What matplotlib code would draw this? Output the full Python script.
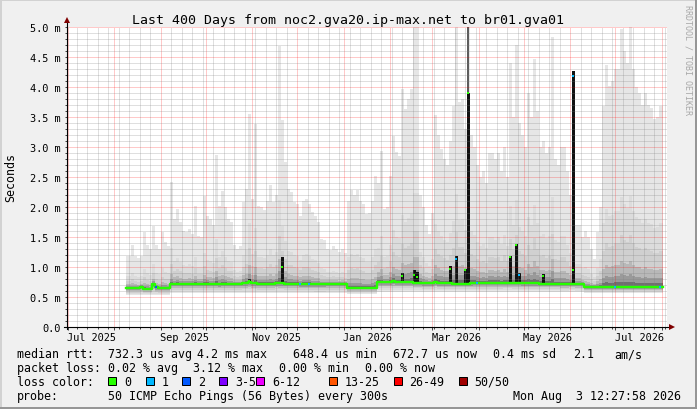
import datetime as dt
import numpy as np
import matplotlib
matplotlib.use("Agg")
import matplotlib.pyplot as plt
import matplotlib.dates as mdates
import matplotlib.transforms as mtransforms
from matplotlib.patches import Rectangle

W, H = 697, 410
MONO = "DejaVu Sans Mono"

# ---- data, all values in milliseconds -------------------------------------
# one bin every 2 days starting here
first_bin = dt.datetime(2025, 8, 9)

# top of the light smoke (max ping of the bin)
smoke_max = [
    1.19, 1.19, 1.36, 1.19, 1.15, 1.19, 1.58, 1.36, 1.30, 1.69,
    1.36, 1.30, 1.58, 1.41, 1.35, 2.41, 1.80, 1.97, 1.75, 1.60,
    1.58, 1.64, 1.55, 2.02, 1.52, 1.50, 2.19, 1.85, 1.80, 1.70,
    2.86, 2.02, 2.27, 2.00, 1.80, 1.75, 1.36, 1.30, 1.35, 2.08,
    2.30, 3.55, 2.13, 3.38, 2.02, 2.00, 1.95, 2.10, 2.36, 2.08,
    2.20, 4.69, 3.45, 2.75, 2.30, 2.25, 2.08, 2.05, 1.85, 2.10,
    2.13, 2.05, 1.91, 1.85, 1.75, 1.47, 1.45, 1.30, 1.28, 1.35,
    1.30, 1.25, 1.30, 1.24, 2.10, 2.28, 2.20, 2.28, 2.10, 2.05,
    1.88, 1.90, 2.10, 2.52, 2.40, 2.94, 1.97, 2.00, 2.52, 3.19,
    2.92, 2.85, 3.97, 3.63, 3.80, 3.97, 5.00, 5.00, 2.20, 2.00,
    1.70, 1.55, 1.90, 3.53, 3.20, 2.97, 2.80, 2.70, 3.10, 3.69,
    5.00, 3.75, 3.80, 3.30, 5.00, 3.20, 3.00, 2.70, 2.50, 2.60,
    2.40, 2.90, 2.90, 2.80, 2.90, 2.60, 3.00, 2.50, 4.40, 3.50,
    4.70, 3.40, 3.20, 3.00, 3.90, 3.50, 4.47, 3.60, 3.00, 3.10,
    2.90, 3.00, 4.83, 2.80, 2.70, 3.00, 3.00, 2.60, 2.20, 4.27,
    1.70, 1.70, 1.50, 1.60, 1.50, 1.30, 1.13, 1.58, 2.00, 3.69,
    4.36, 4.02, 4.10, 4.30, 4.30, 4.97, 4.60, 4.40, 5.00, 4.30,
    4.00, 3.90, 3.70, 3.90, 3.70, 3.65, 3.47, 3.50, 3.69, 3.69,
]

# median rtt of the bin
median_rtt = [
    0.655, 0.655, 0.655, 0.655, 0.655, 0.67, 0.64, 0.64, 0.64, 0.71,
    0.66, 0.655, 0.655, 0.655, 0.655, 0.72, 0.72, 0.72, 0.72, 0.72,
    0.72, 0.72, 0.72, 0.72, 0.72, 0.72, 0.72, 0.72, 0.72, 0.72,
    0.72, 0.715, 0.72, 0.72, 0.72, 0.72, 0.72, 0.72, 0.72, 0.73,
    0.73, 0.75, 0.73, 0.73, 0.72, 0.72, 0.72, 0.72, 0.72, 0.72,
    0.735, 0.73, 0.73, 0.725, 0.72, 0.72, 0.72, 0.72, 0.715, 0.715,
    0.715, 0.715, 0.715, 0.71, 0.71, 0.71, 0.71, 0.72, 0.72, 0.72,
    0.72, 0.72, 0.72, 0.72, 0.655, 0.655, 0.655, 0.655, 0.655, 0.655,
    0.655, 0.655, 0.655, 0.655, 0.745, 0.745, 0.745, 0.745, 0.745, 0.76,
    0.745, 0.745, 0.745, 0.745, 0.745, 0.75, 0.74, 0.74, 0.74, 0.73,
    0.73, 0.73, 0.73, 0.75, 0.73, 0.73, 0.73, 0.73, 0.73, 0.72,
    0.72, 0.72, 0.72, 0.72, 0.72, 0.73, 0.735, 0.735, 0.735, 0.735,
    0.735, 0.735, 0.735, 0.735, 0.735, 0.735, 0.74, 0.74, 0.74, 0.735,
    0.735, 0.735, 0.73, 0.73, 0.73, 0.73, 0.73, 0.73, 0.72, 0.72,
    0.72, 0.72, 0.72, 0.715, 0.715, 0.71, 0.71, 0.71, 0.715, 0.72,
    0.71, 0.71, 0.71, 0.67, 0.67, 0.67, 0.67, 0.67, 0.67, 0.67,
    0.67, 0.67, 0.67, 0.67, 0.67, 0.67, 0.67, 0.67, 0.67, 0.67,
    0.67, 0.67, 0.67, 0.67, 0.67, 0.67, 0.67, 0.67, 0.67, 0.67,
]

# bottom of the smoke (min ping of the bin)
smoke_lo = [
    0.53, 0.53, 0.53, 0.53, 0.53, 0.53, 0.53, 0.53, 0.53, 0.53,
    0.53, 0.53, 0.53, 0.53, 0.53, 0.57, 0.57, 0.57, 0.57, 0.57,
    0.57, 0.57, 0.57, 0.57, 0.57, 0.57, 0.57, 0.57, 0.57, 0.57,
    0.57, 0.57, 0.57, 0.57, 0.57, 0.57, 0.57, 0.57, 0.57, 0.57,
    0.57, 0.57, 0.57, 0.57, 0.57, 0.57, 0.57, 0.57, 0.57, 0.57,
    0.57, 0.57, 0.57, 0.57, 0.57, 0.57, 0.57, 0.57, 0.57, 0.57,
    0.57, 0.57, 0.57, 0.57, 0.57, 0.57, 0.57, 0.57, 0.57, 0.57,
    0.57, 0.57, 0.57, 0.57, 0.55, 0.55, 0.55, 0.55, 0.55, 0.55,
    0.55, 0.55, 0.55, 0.55, 0.59, 0.59, 0.59, 0.59, 0.59, 0.59,
    0.59, 0.59, 0.59, 0.59, 0.59, 0.59, 0.59, 0.59, 0.59, 0.59,
    0.59, 0.59, 0.59, 0.59, 0.59, 0.59, 0.59, 0.59, 0.59, 0.59,
    0.59, 0.59, 0.59, 0.59, 0.59, 0.59, 0.59, 0.59, 0.59, 0.59,
    0.59, 0.59, 0.59, 0.59, 0.59, 0.59, 0.59, 0.59, 0.59, 0.59,
    0.59, 0.59, 0.59, 0.59, 0.59, 0.59, 0.59, 0.59, 0.59, 0.59,
    0.59, 0.59, 0.59, 0.59, 0.59, 0.59, 0.59, 0.59, 0.59, 0.59,
    0.59, 0.59, 0.59, 0.56, 0.56, 0.56, 0.56, 0.56, 0.56, 0.56,
    0.56, 0.56, 0.56, 0.56, 0.56, 0.56, 0.56, 0.56, 0.56, 0.56,
    0.56, 0.56, 0.56, 0.56, 0.56, 0.56, 0.56, 0.56, 0.56, 0.56,
]

# dark spikes (dense smoke) with the median dot on them
spike_dates = ["2025-10-30", "2025-11-21", "2026-02-09", "2026-02-17", "2026-02-19",
               "2026-03-13", "2026-03-17", "2026-03-23", "2026-03-25", "2026-04-22",
               "2026-04-26", "2026-04-28", "2026-05-14", "2026-06-03"]
spike_tops = [0.80, 1.16, 0.90, 0.95, 0.92, 1.02, 1.19, 0.97, 3.90, 1.19,
              1.38, 0.90, 0.88, 4.27]
spike_dots = [0.76, 1.00, 0.85, 0.87, 0.83, 0.97, 1.14, 0.95, 3.90, 1.17,
              1.36, 0.87, 0.85, 0.95]
spike_dot_loss = [0, 0, 0, 0, 0, 0, 1, 0, 0, 0, 0, 1, 0, 0]
cap_dates = ["2026-03-25"]
cap_tops = [5.0]

# median points drawn with a loss colour
loss_dates = ["2025-08-29", "2025-12-03", "2025-12-09", "2026-03-31",
              "2026-06-03", "2026-07-01", "2026-07-31"]
loss_values = [0.66, 0.715, 0.715, 0.735, 4.19, 0.67, 0.67]
loss_index = [2, 1, 1, 1, 1, 1, 1]

loss_labels = ["0", "1", "2", "3-5", "6-12", "13-25", "26-49", "50/50"]
loss_palette = ["#26ff00", "#00b8ff", "#0059ff", "#7e00ff",
                "#ee00ff", "#ff5500", "#ff0000", "#a00000"]

month_starts = ["2025-07-01", "2025-09-01", "2025-11-01", "2026-01-01",
                "2026-03-01", "2026-05-01", "2026-07-01"]
month_labels = ["Jul 2025", "Sep 2025", "Nov 2025", "Jan 2026",
                "Mar 2026", "May 2026", "Jul 2026"]
y_major = [0.0, 0.5, 1.0, 1.5, 2.0, 2.5, 3.0, 3.5, 4.0, 4.5, 5.0]

title = "Last 400 Days from noc2.gva20.ip-max.net to br01.gva01"

# ---- figure ----------------------------------------------------------------
fig = plt.figure(figsize=(W / 100, H / 100), dpi=100, facecolor="#f0f0f0")


def put(x, y, s, **kw):
    kw.setdefault("family", MONO)
    kw.setdefault("va", "baseline")
    fig.text(x / W, 1 - y / H, s, **kw)


# bevel border
fig.add_artist(Rectangle((0, 1 - 2 / H), 1, 2 / H, transform=fig.transFigure, color="#d2d2d2", lw=0))
fig.add_artist(Rectangle((0, 0), 2 / W, 1, transform=fig.transFigure, color="#d2d2d2", lw=0))
fig.add_artist(Rectangle((0, 0), 1, 2 / H, transform=fig.transFigure, color="#969696", lw=0))
fig.add_artist(Rectangle((1 - 2 / W, 0), 2 / W, 1, transform=fig.transFigure, color="#969696", lw=0))

ax = fig.add_axes([67 / W, 1 - 328 / H, 600 / W, 300 / H])
ax.set_facecolor("white")
x0 = mdates.date2num(dt.datetime(2025, 6, 30, 12))
ax.set_xlim(x0, x0 + 400)
ax.set_ylim(0, 5.0)

xb = mdates.date2num(first_bin) + 2 * np.arange(len(smoke_max))
mx = np.array(smoke_max)
md = np.array(median_rtt)
lo = np.array(smoke_lo)

# smoke: light envelope, then darker shades towards the median
ax.fill_between(xb, lo, mx, step="mid", color="#e6e6e6", lw=0, zorder=1)
shades = [(0.35, 0.85, "#dcdcdc"), (0.2, 0.65, "#d0d0d0"), (0.1, 0.45, "#b8b8b8"),
          (0.05, 0.28, "#9a9a9a"), (0.02, 0.12, "#707070")]
for fu, fl, c in shades:
    ax.fill_between(xb, md - fl * (md - lo), md + fu * (mx - md), step="mid",
                    color=c, lw=0, zorder=1)

sx = mdates.datestr2num(spike_dates)
sidx = ((sx - xb[0]) / 2).round().astype(int)
sbase = md[sidx]
ax.bar(sx, np.array(spike_tops) - sbase, bottom=sbase, width=1.8,
       color="#111111", lw=0, zorder=2)
cx = mdates.datestr2num(cap_dates)
ctop = np.array(spike_tops)[np.isin(sx, cx)]
ax.bar(cx, np.array(cap_tops) - ctop, bottom=ctop, width=1.3,
       color="#5c5c5c", lw=0, zorder=2)

# grid on top of the smoke, like rrdtool
ax.set_yticks(y_major)
ax.set_yticks(np.arange(0, 5.01, 0.1), minor=True)
ax.xaxis.set_major_locator(mdates.MonthLocator())
ax.xaxis.set_minor_locator(mdates.WeekdayLocator(byweekday=mdates.MO))
ax.set_axisbelow(False)
ax.grid(which="minor", color="#808080", alpha=0.5, ls=(0, (1, 1)), lw=0.72)
ax.grid(which="major", color="#ff0000", alpha=0.42, ls=(0, (1, 1)), lw=0.72)
ax.tick_params(which="both", direction="out", length=1.5, width=0.72, color="#444444",
               labelleft=False, labelbottom=False)
ax.tick_params(axis="x", which="major", length=2.2)
for axis in (ax.xaxis, ax.yaxis):
    for t in axis.get_major_ticks() + axis.get_minor_ticks():
        t.gridline.set_snap(True)

# median line and loss colours
ax.plot(xb, md, drawstyle="steps-mid", color=loss_palette[0], lw=1.7, zorder=3)
for x, v, k in zip(sx, spike_dots, spike_dot_loss):
    ax.plot([x], [v], ls="none", marker="s", ms=1.9, mew=0, color=loss_palette[k], zorder=4)
for d, v, k in zip(mdates.datestr2num(loss_dates), loss_values, loss_index):
    ax.plot([d], [v], ls="none", marker="s", ms=1.9, mew=0, color=loss_palette[k], zorder=4)

# axes with arrows
for s in ax.spines.values():
    s.set_visible(False)
ax.plot([0, 0], [-2 / 300, 1 + 6 / 300], transform=ax.transAxes, color="black",
        lw=0.8, clip_on=False, zorder=5)
ax.plot([-3 / 600, 1 + 3 / 600], [0, 0], transform=ax.transAxes, color="black",
        lw=0.8, clip_on=False, zorder=5)
ax.plot([0], [1 + 7 / 300], transform=ax.transAxes, marker="^", ms=4.5, mew=0,
        color="#7f0000", clip_on=False, zorder=6)
ax.plot([1 + 5 / 600], [0], transform=ax.transAxes, marker=">", ms=4.5, mew=0,
        color="#7f0000", clip_on=False, zorder=6)

# axis labels
ytrans = mtransforms.offset_copy(
    mtransforms.blended_transform_factory(fig.transFigure, ax.transData),
    fig=fig, y=-3.8, units="dots")
for v in y_major:
    lab = "0.0" if v == 0 else f"{v:.1f} m"
    fig.text(61 / W, v, lab, transform=ytrans, ha="right", va="baseline",
             family=MONO, size=7.4)
xtrans = mtransforms.blended_transform_factory(ax.transData, fig.transFigure)
for d, lab in zip(mdates.datestr2num(month_starts), month_labels):
    fig.text(d + 16, 1 - 341 / H, lab, transform=xtrans, ha="center", va="baseline",
             family=MONO, size=7.4)

put(348.5, 24, title, ha="center", size=9.57)
put(10.5, 178, "Seconds", rotation=90, ha="center", va="center", size=8.4)
put(688, 60, "RRDTOOL / TOBI OETIKER", rotation=270, ha="center", va="center",
    size=6, color="#a8a8a8")

# legend
LS = 8.4
put(16.7, 358.5, "median rtt:", size=LS)
for x, s in [(107.7, "732.3 us avg"), (196.7, "4.2 ms max"), (293.3, "648.4 us min"),
             (393.3, "672.7 us now"), (493.3, "0.4 ms sd"), (572.7, "2.1"), (614.3, "am/s")]:
    put(x, 358.5, s, size=LS)
put(16.7, 372.3, "packet loss:", size=LS)
for x, s in [(107.7, "0.02 % avg"), (193.3, "3.12 % max"), (279.3, "0.00 % min"),
             (365.0, "0.00 % now")]:
    put(x, 372.3, s, size=LS)
put(16.7, 386, "loss color:", size=LS)
box_x = [108, 146, 182, 219, 256, 328.5, 393.5, 458.5]
for bx, lab, c in zip(box_x, loss_labels, loss_palette):
    fig.add_artist(Rectangle((bx / W, 1 - 385.5 / H), 8 / W, 8 / H, transform=fig.transFigure,
                             facecolor=c, edgecolor="black", lw=0.72))
    put(bx + 16, 386, lab, size=LS)
put(16.7, 400, "probe:", size=LS)
put(107.7, 400, "50 ICMP Echo Pings (56 Bytes) every 300s", size=LS)
put(513.3, 400, "Mon Aug  3 12:27:58 2026", size=LS)

fig.savefig("out.png", dpi=100, facecolor=fig.get_facecolor())
